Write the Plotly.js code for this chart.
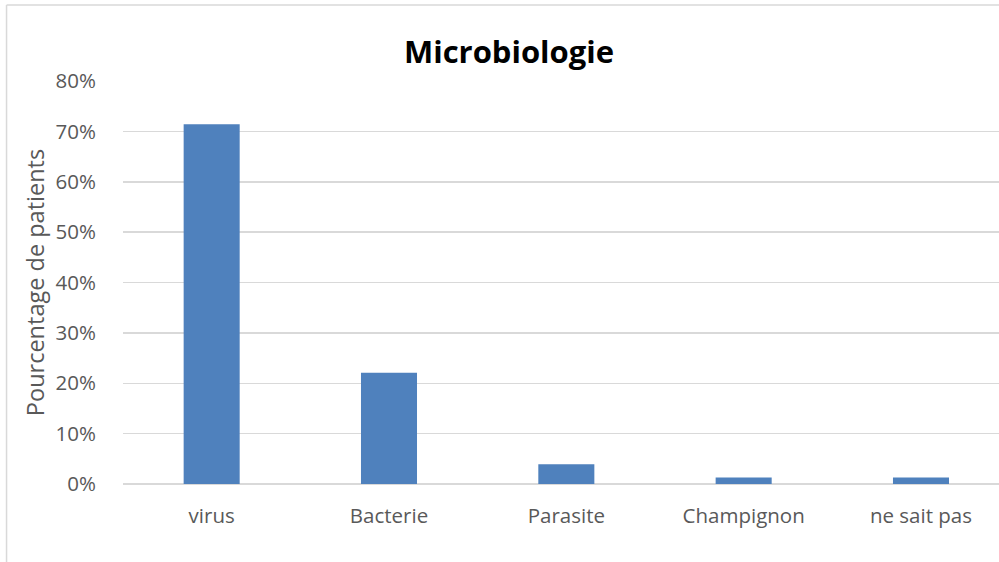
<!DOCTYPE html>
<html>
<head>
<meta charset="utf-8">
<script src="https://cdn.plot.ly/plotly-3.0.1.min.js"></script>
<style>html,body{margin:0;padding:0;background:#fff;}#chart{width:999px;height:562px;}</style>
</head>
<body>
<div id="chart"></div>
<script>
const categories = ["virus", "Bacterie", "Parasite", "Champignon", "ne sait pas"];
const values = [0.714, 0.221, 0.039, 0.013, 0.013];
const chartTitle = "Microbiologie";
const yTitle = "Pourcentage de patients";

const W = 999, H = 562;
const mL = 123.4, mT = 81, mB = 77.7, mR = 0;
const plotW = W - mL - mR, plotH = H - mT - mB;
const catStep = 177.25;
const px2x = p => (p - mL) / plotW;
const py2y = p => (H - mB - p) / plotH;
const font = "'Open Sans', 'DejaVu Sans', sans-serif";

const trace = {
  type: "bar",
  x: categories,
  y: values,
  marker: {color: "#4f81bd", line: {width: 0}},
  hoverinfo: "skip"
};

const layout = {
  width: W, height: H,
  margin: {l: mL, r: mR, t: mT, b: mB, pad: 0},
  paper_bgcolor: "#fff", plot_bgcolor: "#fff",
  showlegend: false,
  bargap: 0.684,
  title: {text: "<b>" + chartTitle + "</b>", font: {family: font, size: 31, color: "#000"},
          x: 509 / W, xref: "container", xanchor: "center", y: 1 - 52 / H, yref: "container", yanchor: "middle"},
  xaxis: {
    type: "category",
    range: [-0.5, -0.5 + plotW / catStep],
    showgrid: false, showline: false, zeroline: false,
    ticks: "outside", ticklen: 13, tickcolor: "rgba(0,0,0,0)",
    tickfont: {family: font, size: 20.5, color: "#595959"}
  },
  yaxis: {
    range: [0, 0.8], dtick: 0.1, tick0: 0, tickformat: ".0%",
    showgrid: true, gridcolor: "#d9d9d9", gridwidth: 1.5,
    zeroline: true, zerolinecolor: "#d9d9d9", zerolinewidth: 1.5,
    showline: false,
    ticks: "outside", ticklen: 22, tickcolor: "rgba(0,0,0,0)",
    tickfont: {family: font, size: 20.5, color: "#595959"},
    title: {text: yTitle, font: {family: font, size: 23.5, color: "#595959"}, standoff: 4}
  },
  shapes: [
    {type: "line", xref: "paper", yref: "paper", x0: px2x(7), x1: px2x(7), y0: py2y(5), y1: py2y(H + 5),
     line: {color: "#d9d9d9", width: 1.5}},
    {type: "line", xref: "paper", yref: "paper", x0: px2x(7), x1: px2x(W + 5), y0: py2y(5), y1: py2y(5),
     line: {color: "#d9d9d9", width: 1.5}}
  ]
};

Plotly.newPlot("chart", [trace], layout, {displayModeBar: false, staticPlot: true});
</script>
</body>
</html>
